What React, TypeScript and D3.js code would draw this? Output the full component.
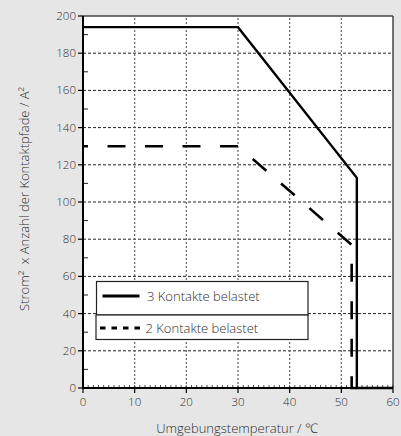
import React from "react";
import * as d3 from "d3";

// x: Umgebungstemperatur in °C, y: Strom² x Anzahl der Kontaktpfade
const xTicks = [0, 10, 20, 30, 40, 50, 60];
const yTicks = [0, 20, 40, 60, 80, 100, 120, 140, 160, 180, 200];
const threeContacts: [number, number][] = [
  [0, 194],
  [30, 194],
  [53, 113],
  [53, 0],
  [60, 0],
];
const twoContacts: [number, number][] = [
  [0, 130],
  [30, 130],
  [52, 77],
  [52, 0],
  [53, 0],
];
const legendLabels = ["3 Kontakte belastet", "2 Kontakte belastet"];

const width = 401;
const height = 436;
const marginLeft = 83;
const marginRight = 8;
const marginTop = 16;
const marginBottom = 48;
const font = "'Open Sans', 'Noto Sans', sans-serif";
const textColor = "#2e2e2e";

const App: React.FC = () => {
  const x = d3
    .scaleLinear()
    .domain([0, 60])
    .range([marginLeft, width - marginRight]);
  const y = d3
    .scaleLinear()
    .domain([0, 200])
    .range([height - marginBottom, marginTop]);

  const line = d3
    .line<[number, number]>()
    .x((d) => x(d[0]))
    .y((d) => y(d[1]));

  const xMinor = d3.range(0, 61, 1);
  const yMinor = d3.range(10, 200, 20);
  const y0 = y(0);

  return (
    <svg
      width={width}
      height={height}
      style={{
        position: "absolute",
        left: 0,
        top: 0,
        fontFamily: font,
        fontWeight: 300,
      }}
    >
      <rect width={width} height={height} fill="#e6e6e6" />
      <rect
        x={x(0)}
        y={y(200)}
        width={x(60) - x(0)}
        height={y(0) - y(200)}
        fill="#fff"
      />

      {/* grid */}
      {yTicks.slice(1, -1).map((t) => (
        <line
          key={"gy" + t}
          x1={x(0)}
          x2={x(60)}
          y1={y(t)}
          y2={y(t)}
          stroke="#222"
          strokeWidth={1}
          strokeDasharray="3,2"
        />
      ))}
      {xTicks.slice(1, -1).map((t) => (
        <line
          key={"gx" + t}
          x1={x(t)}
          x2={x(t)}
          y1={y(0)}
          y2={y(200)}
          stroke="#666"
          strokeWidth={1.2}
          strokeDasharray="2,2"
        />
      ))}

      {/* frame top/right */}
      <line x1={x(0)} x2={x(60)} y1={y(200)} y2={y(200)} stroke="#444" strokeWidth={1.5} />
      <line x1={x(60)} x2={x(60)} y1={y(200)} y2={y(0)} stroke="#444" strokeWidth={1.5} />

      {/* minor ticks */}
      {xMinor.map((t) => (
        <line
          key={"mx" + t}
          x1={x(t)}
          x2={x(t)}
          y1={y0}
          y2={y0 - 3}
          stroke="#222"
          strokeWidth={0.8}
        />
      ))}
      {yMinor.map((t) => (
        <line
          key={"my" + t}
          x1={x(0)}
          x2={x(0) + 5}
          y1={y(t)}
          y2={y(t)}
          stroke="#222"
          strokeWidth={1}
        />
      ))}

      {/* data */}
      <path
        d={line(twoContacts) ?? ""}
        fill="none"
        stroke="#000"
        strokeWidth={2.6}
        strokeDasharray="18,19.5"
        strokeDashoffset={13}
      />
      <path
        d={line(threeContacts) ?? ""}
        fill="none"
        stroke="#000"
        strokeWidth={2.4}
        strokeLinejoin="miter"
      />

      {/* axes */}
      <line x1={x(0)} x2={x(60)} y1={y0} y2={y0} stroke="#000" strokeWidth={2} />
      <line x1={x(0)} x2={x(0)} y1={y(0) + 1} y2={y(200)} stroke="#000" strokeWidth={2} />
      {xTicks.map((t) => (
        <g key={"xt" + t}>
          <line x1={x(t)} x2={x(t)} y1={y0} y2={y0 + 5} stroke="#000" strokeWidth={1.2} />
          <text
            x={x(t)}
            y={y0 + 18}
            textAnchor="middle"
            fontSize={11.5}
            fill={textColor}
          >
            {t}
          </text>
        </g>
      ))}
      {yTicks.map((t) => (
        <g key={"yt" + t}>
          <line x1={x(0) - 5} x2={x(0)} y1={y(t)} y2={y(t)} stroke="#000" strokeWidth={1.2} />
          <text
            x={x(0) - 7}
            y={y(t)}
            dy="0.35em"
            textAnchor="end"
            fontSize={11.5}
            fill={textColor}
          >
            {t}
          </text>
        </g>
      ))}

      {/* axis titles */}
      <text
        x={(x(0) + x(60)) / 2 - 1}
        y={433}
        textAnchor="middle"
        fontSize={13}
        fill={textColor}
      >
        Umgebungstemperatur / ℃
      </text>
      <text
        transform={`translate(29,${199}) rotate(-90)`}
        textAnchor="middle"
        fontSize={13}
        fill={textColor}
      >
        Strom² {"\u00a0"}x Anzahl der Kontaktpfade / A²
      </text>

      {/* legend */}
      <rect x={96.5} y={281.5} width={211.5} height={33.5} fill="#fff" stroke="#222" strokeWidth={1.2} />
      <rect x={96} y={315} width={212} height={24.5} fill="#fff" stroke="#222" strokeWidth={1.2} />
      <line x1={102.5} x2={139.5} y1={296} y2={296} stroke="#000" strokeWidth={3} />
      <line
        x1={100}
        x2={142}
        y1={328}
        y2={328}
        stroke="#000"
        strokeWidth={2.8}
        strokeDasharray="5.5,6"
      />
      <text x={147} y={300.5} fontSize={13} fill={textColor}>
        {legendLabels[0]}
      </text>
      <text x={145.5} y={332.5} fontSize={13} fill={textColor}>
        {legendLabels[1]}
      </text>
    </svg>
  );
};

export default App;
